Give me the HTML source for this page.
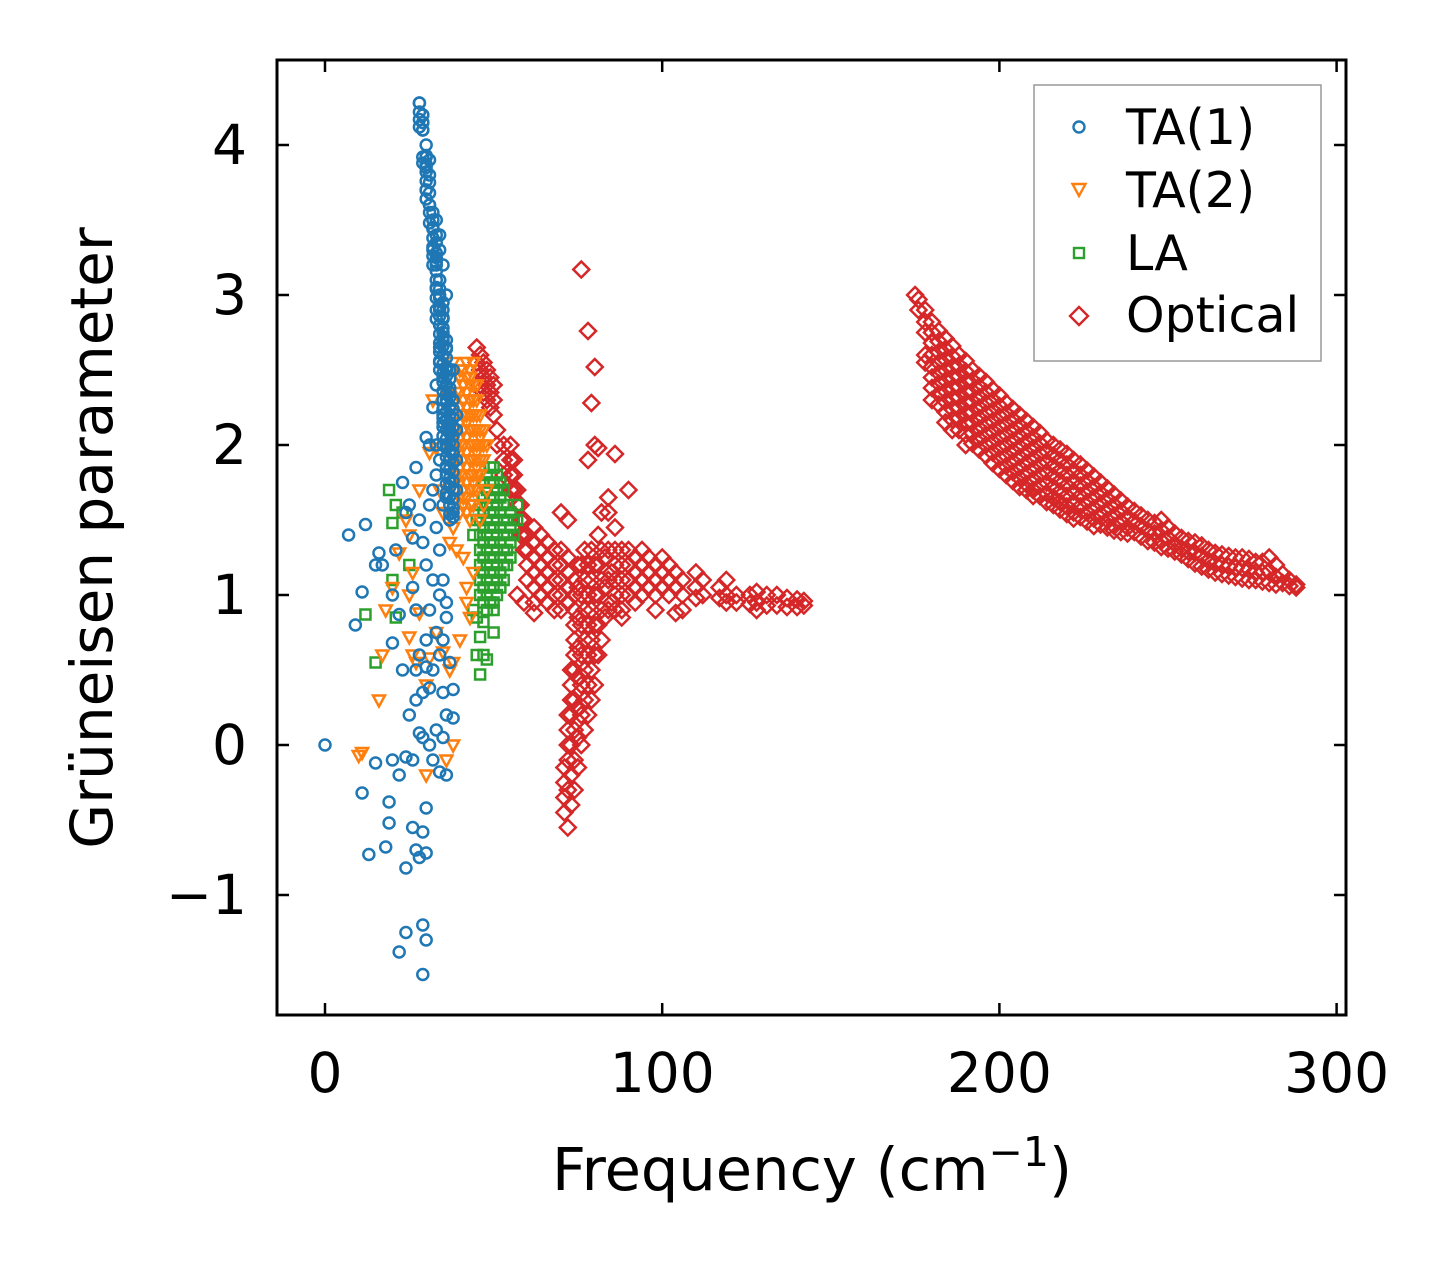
<!DOCTYPE html>
<html><head><meta charset="utf-8">
<style>
html,body{margin:0;padding:0;background:#fff;}
svg{display:block;font-family:"DejaVu Sans","Liberation Sans",sans-serif;}
</style></head>
<body>
<svg id="chart" width="1452" height="1264" viewBox="0 0 1452 1264" xmlns="http://www.w3.org/2000/svg">
<rect x="0" y="0" width="1452" height="1264" fill="#fff"/>
<g id="marks"></g>
<rect x="277" y="60" width="1069" height="955" fill="none" stroke="#000" stroke-width="3"/>
<g id="axes"></g>
<text x="812" y="1190" font-size="59" text-anchor="middle">Frequency (cm<tspan font-size="41" dy="-24">−1</tspan><tspan dy="24">)</tspan></text>
<text transform="translate(112,538) rotate(-90)" font-size="58" text-anchor="middle">Grüneisen parameter</text>
<g>
<rect x="1034" y="85" width="287" height="276" fill="#fff" stroke="#999" stroke-width="1.5"/>
<circle cx="1079" cy="127" r="5.5" fill="none" stroke="#1f77b4" stroke-width="2.4"/>
<text x="1126" y="144" font-size="49">TA(1)</text>
<path d="M1072.5,184 L1085.5,184 L1079,196 Z" fill="none" stroke="#ff7f0e" stroke-width="2.4"/>
<text x="1126" y="207" font-size="49">TA(2)</text>
<rect x="1074" y="248" width="10" height="10" fill="none" stroke="#2ca02c" stroke-width="2.4"/>
<text x="1126" y="270" font-size="49">LA</text>
<path d="M1079,307 L1088,316 L1079,325 L1070,316 Z" fill="none" stroke="#d62728" stroke-width="2.4"/>
<text x="1126" y="332" font-size="49">Optical</text>
</g>
</svg>
<script>
const xTicks=[0,100,200,300];
const yTicks=[4,3,2,1,0,-1];
const yTickLabels=["4","3","2","1","0","−1"];
const ta1=[[28,4.28],[29,4.2],[29,4.15],[29,4.1],[30,4.0],[30,3.92],[30,3.85],[31,3.9],[31,3.8],[30,3.7],[31,3.6],[32,3.55],[32,3.45],[33,3.4],[32,3.3],[33,3.25],[33,3.2],[34,3.1],[33,3.05],[34,3.0],[36,3.0],[35,3.2],[34,3.4],[34,2.9],[35,2.85],[34,2.8],[35,2.7],[35,2.6],[34,2.55],[36,2.5],[35,2.45],[36,2.4],[37,2.35],[36,2.3],[37,2.2],[35,2.15],[37,2.1],[36,2.0],[38,1.95],[37,1.9],[36,1.85],[37,1.75],[38,1.7],[36,1.65],[38,1.55],[37,1.5],[33,2.0],[34,1.9],[35,2.2],[33,2.4],[32,2.25],[31,2.0],[30,2.05],[32,1.7],[33,1.8],[35,1.6],[38,2.5],[38,2.3],[39,2.2],[35,2.75],[36,2.65],[34,2.65],[35,2.95],[34,3.3],[33,3.5],
[0,0],[7,1.4],[9,0.8],[11,1.02],[12,1.47],[15,1.2],[16,1.28],[17,1.2],[20,1.0],[21,1.3],[20,0.68],[22,0.87],[24,1.55],[23,1.75],[25,1.6],[26,1.38],[27,1.85],[26,1.05],[27,0.9],[28,1.5],[29,1.35],[30,1.2],[28,0.6],[30,0.7],[31,0.9],[32,0.5],[33,0.75],[34,0.6],[35,0.7],[36,0.85],[38,0.37],[37,0.55],[36,0.2],[38,0.18],[35,0.05],[33,0.1],[31,0.0],[29,0.05],[28,0.08],[27,0.3],[25,0.2],[24,-0.08],[26,-0.1],[22,-0.2],[20,-0.1],[19,-0.38],[19,-0.52],[15,-0.12],[11,-0.32],[13,-0.73],[18,-0.68],[24,-0.82],[26,-0.55],[27,-0.7],[28,-0.75],[30,-0.72],[29,-0.58],[30,-0.42],[22,-1.38],[24,-1.25],[29,-1.2],[30,-1.3],[29,-1.53],[32,-0.1],[34,-0.18],[36,-0.2],[35,0.35],[31,0.38],[30,0.52],[29,0.35],[27,0.5],[23,0.5],[31,1.6],[33,1.45],[34,1.3],[35,1.1],[36,0.95],[34,1.0],[32,1.1]];
const ta1Rows=[[28,[4.28,4.22,4.17,4.12]],[29,[4.2,4.15,4.1,3.92,3.88]],[30,[3.93,3.87,3.82,3.76,3.7,3.64]],[31,[3.75,3.68,3.6,3.55,3.48]],[32,[3.5,3.44,3.38,3.32,3.26,3.2]],[33,[3.35,3.28,3.22,3.16,3.1,3.04,2.98,2.9,2.84]],[34,[3.1,3.04,2.98,2.92,2.86,2.8,2.74,2.68,2.62,2.56,2.5]],[35,[2.9,2.84,2.78,2.72,2.66,2.6,2.54,2.48,2.42,2.36,2.3,2.24,2.18,2.12,2.06,2.0]],[36,[2.7,2.64,2.58,2.52,2.46,2.4,2.34,2.28,2.22,2.16,2.1,2.04,1.98,1.92,1.86,1.8,1.74,1.68]],[37,[2.5,2.44,2.38,2.32,2.26,2.2,2.14,2.08,2.02,1.96,1.9,1.84,1.78,1.72,1.66,1.6,1.54]],[38,[2.3,2.24,2.18,2.12,2.06,2.0,1.94,1.88,1.82,1.76,1.7,1.64,1.58,1.52]],[39,[2.1,1.9,1.7]]];
const ta2=[[38,2.55],[40,2.5],[41,2.4],[42,2.35],[42,2.2],[43,2.1],[44,2.0],[43,1.9],[45,1.85],[44,1.75],[46,1.8],[45,1.95],[46,2.05],[47,2.1],[46,2.2],[44,2.3],[43,2.45],[40,2.25],[39,2.1],[40,2.0],[41,1.9],[42,1.75],[41,1.65],[40,1.55],[39,1.7],[38,1.9],[37,2.05],[36,2.0],[33,1.98],[32,2.3],[31,1.95],[34,1.7],[35,1.55],[38,1.45],[37,1.35],[39,1.3],[41,1.25],[42,1.05],[44,1.15],[46,1.5],[47,1.6],[48,1.7],[47,1.9],[48,2.0],[45,2.4],[44,2.55],[45,2.2],[42,1.55],[43,1.6],[40,1.8],[41,2.1],[42,2.05],[39,2.35],[36,2.35],
[24,1.5],[25,1.4],[22,1.28],[20,1.05],[18,0.9],[17,0.6],[16,0.3],[11,-0.05],[10,-0.07],[25,0.72],[26,0.6],[27,0.55],[30,0.4],[31,0.58],[28,0.88],[33,0.75],[35,0.62],[37,0.5],[38,0.55],[40,0.7],[42,0.95],[43,0.85],[38,0.0],[36,-0.1],[30,-0.2],[25,1.0],[26,1.15],[28,1.7]];
const ta2Rows=[[39,[2.0,1.9,1.8]],[40,[2.45,2.35,2.25,2.15,2.05,1.95,1.85,1.75,1.65]],[41,[2.5,2.4,2.3,2.2,2.1,2.0,1.9,1.8,1.7,1.6]],[42,[2.55,2.45,2.35,2.25,2.15,2.05,1.95,1.85,1.75,1.65,1.55]],[43,[2.5,2.4,2.3,2.2,2.1,2.0,1.9,1.8,1.7,1.6,1.5]],[44,[2.4,2.3,2.2,2.1,2.0,1.9,1.8,1.7,1.6]],[45,[2.3,2.2,2.1,2.0,1.9,1.8,1.7]],[46,[2.1,2.0,1.9,1.8]],[47,[2.0,1.9]]];
const la=[[45,1.5],[44,1.4],[57,1.6],[57,1.5],[45,0.85],[46,0.72],[47,0.6],[48,0.57],[50,0.75],[45,0.6],[46,0.47],[44,0.9],[47,0.82],[50,0.9],[19,1.7],[23,1.55],[21,1.6],[20,1.48],[12,0.87],[15,0.55],[20,1.1],[21,0.85],[25,1.2]];
const laRows=[[46,[1.6,1.5,1.4,1.3,1.2,1.1,1.0]],[47,[1.75,1.65,1.55,1.45,1.35,1.25,1.15,1.05,0.95]],[48,[1.8,1.7,1.6,1.5,1.4,1.3,1.2,1.1,1.0,0.9]],[49,[1.85,1.75,1.65,1.55,1.45,1.35,1.25,1.15,1.05,0.95]],[50,[1.85,1.75,1.65,1.55,1.45,1.35,1.25,1.15,1.05,0.95]],[51,[1.8,1.7,1.6,1.5,1.4,1.3,1.2,1.1,1.0]],[52,[1.75,1.65,1.55,1.45,1.35,1.25,1.15,1.05]],[53,[1.7,1.6,1.5,1.4,1.3,1.2,1.1]],[54,[1.6,1.5,1.4,1.3,1.2]],[55,[1.55,1.45,1.35,1.25]],[56,[1.5,1.4]]];
const optical=[[76,3.17],[78,2.76],[80,2.52],[79,2.28],[80,2.0],[81,1.98],[86,1.94],[84,1.65],[90,1.7],[78,1.9],[84,1.55],[82,1.55],[86,1.45],[72,1.5],[70,1.55],[62,0.88],[98,0.9],[104,0.88],[106,0.9],[88,0.85],[59,0.95],[57,1.0]];
const opticalRows=[[45,[2.65,2.55]],[46,[2.6,2.5,2.4]],[47,[2.55,2.45,2.35]],[48,[2.5,2.4,2.3]],[49,[2.45,2.35,2.25]],[50,[2.4,2.3,2.2]],[51,[2.1,2.0]],[53,[2.0,1.9,1.8]],[55,[2.0,1.9,1.8,1.7]],[56,[1.9,1.8,1.7]],[57,[1.7,1.6]],[58,[1.6,1.5,1.4]],[59,[1.5,1.4,1.3]],
[60,[1.4,1.3,1.2,1.1]],[62,[1.45,1.35,1.25,1.15,1.05,0.95]],[64,[1.4,1.3,1.2,1.1,1.0]],[66,[1.35,1.25,1.15,1.05,0.95]],[68,[1.3,1.2,1.1,1.0,0.9]],[70,[1.3,1.2,1.1,1.0,0.9]],[72,[1.25,1.15,1.05,0.95]],[86,[1.3,1.2,1.1,1.0,0.9]],[88,[1.3,1.2,1.1,1.0,0.9]],[90,[1.3,1.2,1.1,1.0]],[92,[1.25,1.15,1.05,0.95]],[94,[1.3,1.2,1.1,1.0]],[96,[1.25,1.15,1.05]],[98,[1.2,1.1,1.0]],[100,[1.25,1.15,1.05]],[102,[1.2,1.1,1.0]],[104,[1.15,1.05]],[106,[1.1,1.0]],[110,[1.15,1.05,0.98]],[112,[1.1,1.0]],[117,[1.05,0.98]],[119,[1.1,1.0,0.95]],[122,[1.0,0.95]],[126,[1.0,0.94]],[128,[1.02,0.95,0.9]],[131,[1.0,0.93]],[134,[1.0,0.93]],[137,[0.98,0.92]],[140,[0.97,0.92]],[142,[0.96,0.93]],
[71,[-0.45,-0.35,-0.25,-0.15]],[72,[-0.55,-0.3,-0.1,0.0,0.1,0.2]],[73,[-0.4,-0.2,0.0,0.2,0.3,0.4,0.5]],[74,[-0.3,-0.1,0.1,0.3,0.5,0.6,0.7,0.8,0.9,1.0,1.1]],[75,[-0.15,0.05,0.25,0.45,0.65,0.85,1.05,1.2]],[76,[0.0,0.2,0.4,0.6,0.8,1.0,1.2]],[77,[0.1,0.3,0.5,0.7,0.9,1.1,1.3]],[78,[0.2,0.4,0.6,0.8,1.0,1.2]],[79,[0.3,0.5,0.7,0.9,1.1,1.3]],[80,[0.4,0.6,0.8,1.0,1.2]],[81,[0.6,0.8,1.0,1.2,1.4]],[82,[0.7,0.9,1.1,1.3]],[83,[0.85,1.05,1.25]],[84,[0.9,1.1,1.3]],[85,[0.95,1.15]],
[175,[3.0]],[176,[2.97,2.9]],[178,[2.9,2.82,2.75,2.6,2.55]],[180,[2.82,2.75,2.68,2.6,2.52,2.45,2.38,2.3]],[182,[2.76,2.69,2.62,2.55,2.48,2.41,2.34,2.27]],[184,[2.71,2.64,2.57,2.5,2.43,2.36,2.29,2.22,2.15]],[186,[2.66,2.59,2.52,2.45,2.38,2.31,2.24,2.17,2.1]],[188,[2.6,2.53,2.46,2.39,2.32,2.25,2.18,2.1]],[190,[2.56,2.49,2.42,2.35,2.28,2.21,2.14,2.07,2.0]],[192,[2.5,2.43,2.36,2.29,2.22,2.15,2.08,2.01]],[194,[2.46,2.39,2.32,2.25,2.18,2.11,2.04,1.97]],[196,[2.42,2.35,2.28,2.21,2.14,2.07,2.0,1.93]],[198,[2.37,2.3,2.23,2.16,2.09,2.02,1.95,1.88]],[200,[2.33,2.26,2.19,2.12,2.05,1.98,1.91,1.84]],[202,[2.28,2.21,2.14,2.07,2.0,1.93,1.86,1.8]],[204,[2.24,2.17,2.1,2.03,1.96,1.89,1.82,1.76]],[206,[2.2,2.13,2.06,1.99,1.92,1.85,1.78,1.72]],[208,[2.16,2.09,2.02,1.95,1.88,1.81,1.74,1.7]],[210,[2.12,2.05,1.98,1.91,1.84,1.77,1.7,1.66]],[212,[2.08,2.01,1.94,1.87,1.8,1.73,1.66]],[214,[2.03,1.96,1.89,1.82,1.75,1.68,1.62]],[216,[2.0,1.93,1.86,1.79,1.72,1.65,1.6]],[218,[1.97,1.9,1.83,1.76,1.69,1.62,1.57]],[220,[1.94,1.87,1.8,1.73,1.66,1.59,1.54]],[222,[1.9,1.83,1.76,1.69,1.62,1.55,1.51]],[224,[1.87,1.8,1.73,1.66,1.59,1.52]],[226,[1.83,1.76,1.69,1.62,1.55,1.49]],[228,[1.79,1.72,1.65,1.58,1.51,1.46]],[230,[1.75,1.68,1.61,1.54,1.47]],[232,[1.71,1.64,1.57,1.5,1.45]],[234,[1.67,1.6,1.53,1.46,1.43]],[236,[1.63,1.56,1.49,1.42]],[238,[1.59,1.52,1.45,1.41]],[240,[1.56,1.49,1.42]],[242,[1.53,1.46,1.39]],[244,[1.5,1.43,1.36]],[246,[1.48,1.41,1.35]],[248,[1.5,1.43,1.36,1.32]],[250,[1.45,1.38,1.31]],[252,[1.41,1.34,1.29]],[254,[1.38,1.31,1.27]],[256,[1.36,1.29,1.24]],[258,[1.35,1.28,1.21]],[260,[1.33,1.26,1.19]],[262,[1.3,1.23,1.17]],[264,[1.28,1.21,1.15]],[266,[1.27,1.2,1.14]],[268,[1.26,1.19,1.13]],[270,[1.25,1.18,1.12]],[272,[1.25,1.18,1.11]],[274,[1.24,1.17,1.1]],[276,[1.22,1.15,1.1]],[278,[1.22,1.15,1.09]],[280,[1.25,1.16,1.08]],[282,[1.2,1.12,1.07]],[284,[1.14,1.08]],[286,[1.1,1.06]],[288,[1.07,1.05]]];

const NS="http://www.w3.org/2000/svg";
function xs(v){return 325+v*3.372;}
function ys(v){return 745-v*150;}
const marks=document.getElementById('marks');
const axes=document.getElementById('axes');
function mk(tag,attrs,parent){const e=document.createElementNS(NS,tag);for(const k in attrs)e.setAttribute(k,attrs[k]);parent.appendChild(e);return e;}
function expand(pts,rows){const out=pts.slice();rows.forEach(function(r){r[1].forEach(function(y){out.push([r[0],y]);});});return out;}

xTicks.forEach(function(t){
  const x=xs(t);
  const tb=mk('line',{x1:x,x2:x,y1:1015,y2:1003,stroke:'#000','stroke-width':2.5},axes);
  
  
  const tt=mk('line',{x1:x,x2:x,y1:60,y2:72,stroke:'#000','stroke-width':2.5},axes);
  
  
  const lb=mk('text',{x:x,y:1092,'font-size':55,'text-anchor':'middle'},axes);
  lb.textContent=String(t);
  
  
});
yTicks.forEach(function(t,i){
  const y=ys(t);
  const tl=mk('line',{x1:277,x2:289,y1:y,y2:y,stroke:'#000','stroke-width':2.5},axes);
  
  
  const tr=mk('line',{x1:1334,x2:1346,y1:y,y2:y,stroke:'#000','stroke-width':2.5},axes);
  
  
  const lb=mk('text',{x:247,y:y+19,'font-size':55,'text-anchor':'end'},axes);
  lb.textContent=yTickLabels[i];
  
  
});

function drawSeries(data,color,shape,name){
  const g=mk('g',{fill:'none',stroke:color,'stroke-width':2.5},marks);
  
  
  data.forEach(function(p){
    const x=xs(p[0]),y=ys(p[1]);let e;
    if(shape==='circle'){e=mk('circle',{cx:x,cy:y,r:5.5},g);}
    else if(shape==='tri'){e=mk('path',{d:'M'+(x-6)+','+(y-4.5)+' L'+(x+6)+','+(y-4.5)+' L'+x+','+(y+6.5)+' Z'},g);}
    else if(shape==='square'){e=mk('rect',{x:x-5,y:y-5,width:10,height:10},g);}
    else {e=mk('path',{d:'M'+x+','+(y-8)+' L'+(x+8)+','+y+' L'+x+','+(y+8)+' L'+(x-8)+','+y+' Z'},g);}
    
    
  });
}
drawSeries(expand(optical,opticalRows),'#d62728','diamond','optical');
drawSeries(expand(la,laRows),'#2ca02c','square','la');
drawSeries(expand(ta2,ta2Rows),'#ff7f0e','tri','ta2');
drawSeries(expand(ta1,ta1Rows),'#1f77b4','circle','ta1');
</script>
</body></html>
